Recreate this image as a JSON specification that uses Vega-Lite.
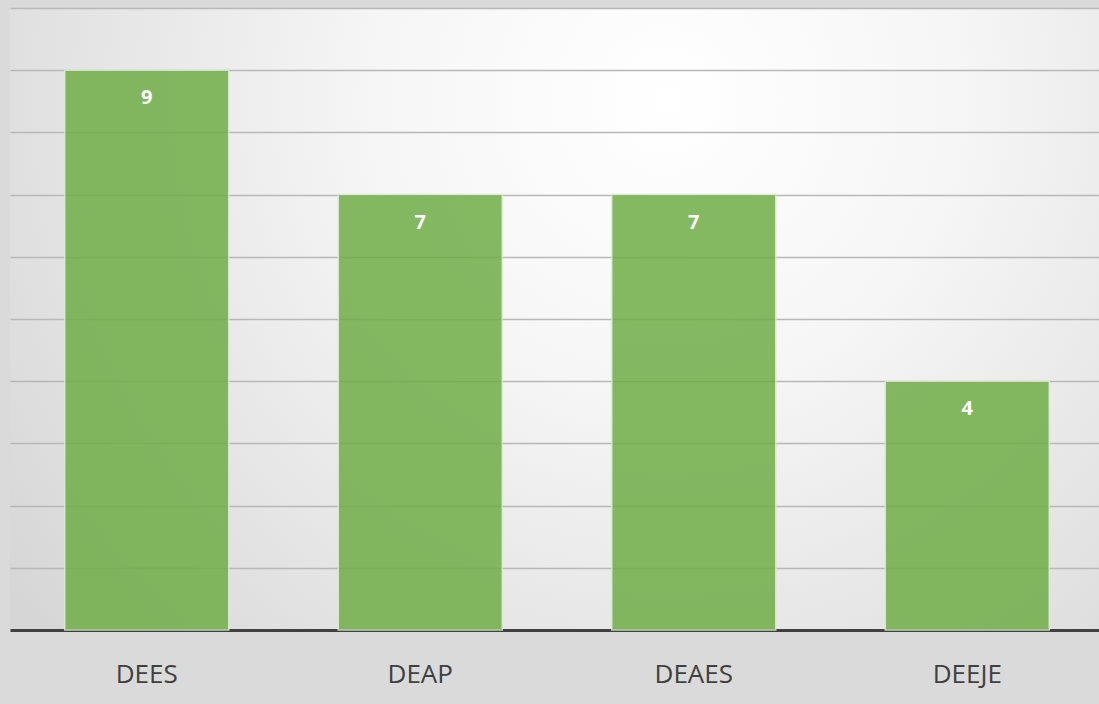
{
  "$schema": "https://vega.github.io/schema/vega-lite/v6.json",
  "width": 1094,
  "height": 622,
  "padding": {"left": 10, "top": 8, "right": 0, "bottom": 20},
  "background": "#dadada",
  "config": {
    "view": {
      "stroke": null,
      "fill": {
        "gradient": "radial",
        "x1": 0.6, "y1": 0.3, "r1": 0,
        "x2": 0.6, "y2": 0.3, "r2": 0.75,
        "stops": [
          {"offset": 0, "color": "#ffffff"},
          {"offset": 0.35, "color": "#f6f6f6"},
          {"offset": 1, "color": "#d6d6d6"}
        ]
      }
    },
    "font": "Open Sans"
  },
  "data": {
    "values": [
      {"category": "DEES", "value": 9},
      {"category": "DEAP", "value": 7},
      {"category": "DEAES", "value": 7},
      {"category": "DEEJE", "value": 4}
    ]
  },
  "encoding": {
    "x": {
      "field": "category",
      "type": "nominal",
      "sort": null,
      "scale": {"paddingInner": 0.4, "paddingOuter": 0.2},
      "axis": {
        "title": null,
        "labelAngle": 0,
        "labelFontSize": 26,
        "labelColor": "#404040",
        "labelFont": "Open Sans",
        "labelPadding": 31,
        "ticks": false,
        "domainColor": "#404040",
        "domainWidth": 3,
        "grid": false
      }
    },
    "y": {
      "field": "value",
      "type": "quantitative",
      "scale": {"domain": [0, 10], "nice": false},
      "axis": {
        "title": null,
        "labels": false,
        "ticks": false,
        "domain": false,
        "values": [1, 2, 3, 4, 5, 6, 7, 8, 9, 10],
        "gridColor": "#b8b8b8",
        "gridWidth": 1.5
      }
    }
  },
  "layer": [
    {
      "mark": {
        "type": "bar",
        "color": "#70ad47",
        "opacity": 0.85,
        "stroke": "#d9ead0",
        "strokeWidth": 1.5
      }
    },
    {
      "mark": {
        "type": "text",
        "color": "#ffffff",
        "fontWeight": "bold",
        "fontSize": 20,
        "baseline": "middle",
        "dy": 28,
        "font": "Open Sans"
      },
      "encoding": {"text": {"field": "value", "type": "quantitative"}}
    }
  ]
}
